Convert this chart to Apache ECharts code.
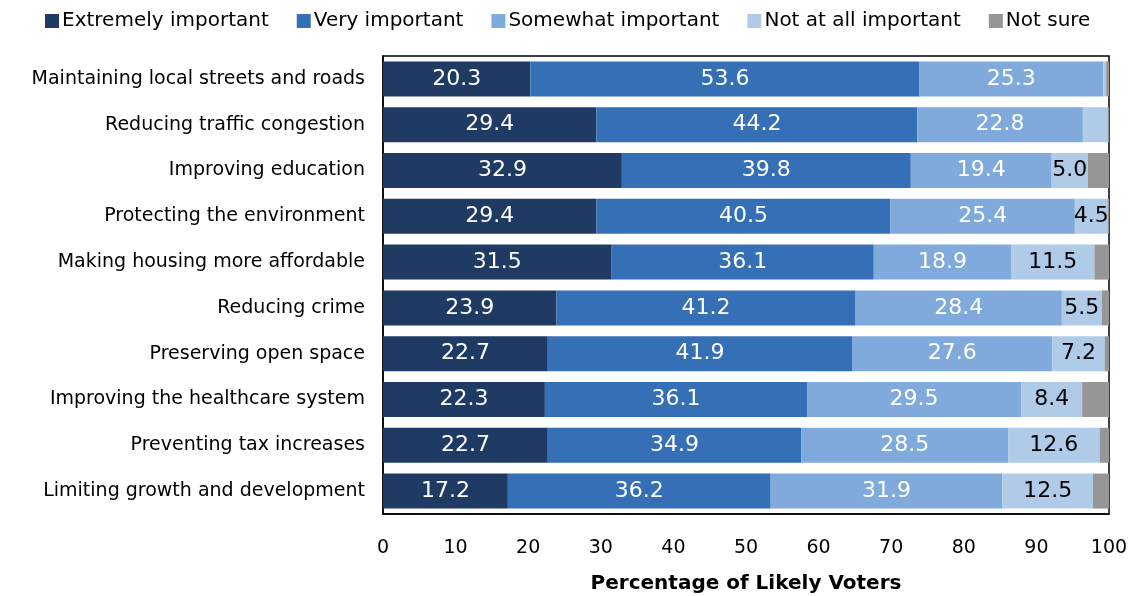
<!DOCTYPE html>
<html><head><meta charset="utf-8">
<script src="https://cdn.jsdelivr.net/npm/echarts@6/dist/echarts.min.js"></script>
<style>html,body{margin:0;padding:0;background:#fff}#c{width:1134px;height:596px}</style>
</head><body><div id="c"></div>
<script>
const categories = [
  'Maintaining local streets and roads',
  'Reducing traffic congestion',
  'Improving education',
  'Protecting the environment',
  'Making housing more affordable',
  'Reducing crime',
  'Preserving open space',
  'Improving the healthcare system',
  'Preventing tax increases',
  'Limiting growth and development'
];
const seriesNames = ['Extremely important','Very important','Somewhat important','Not at all important','Not sure'];
const extremely = [20.3, 29.4, 32.9, 29.4, 31.5, 23.9, 22.7, 22.3, 22.7, 17.2];
const very      = [53.6, 44.2, 39.8, 40.5, 36.1, 41.2, 41.9, 36.1, 34.9, 36.2];
const somewhat  = [25.3, 22.8, 19.4, 25.4, 18.9, 28.4, 27.6, 29.5, 28.5, 31.9];
const notAtAll  = [0.4, 3.4, 5.0, 4.5, 11.5, 5.5, 7.2, 8.4, 12.6, 12.5];
const notSure   = [0.4, 0.2, 2.9, 0.2, 2.0, 1.0, 0.6, 3.7, 1.3, 2.2];
const xTicks = [0,10,20,30,40,50,60,70,80,90,100];

const colors = ['#1f3b63','#356fb5','#80aadb','#b0cbe8','#969696'];
const labelColors = ['#fff','#fff','#fff','#000',null];
const FONT = 'DejaVu Sans';
const dataSets = [extremely, very, somewhat, notAtAll, notSure];

const chart = echarts.init(document.getElementById('c'), null, {renderer:'canvas'});
chart.setOption({
  animation:false,
  textStyle:{fontFamily:FONT},
  legend:{
    top:6, left:40, itemWidth:14, itemHeight:14, itemGap:28,
    icon:'rect',
    textStyle:{fontFamily:FONT, fontSize:20, color:'#000', padding:[0,0,0,-2]},
    data: seriesNames
  },
  grid:{left:383, right:25, top:56, bottom:82, show:true, borderColor:'#000', borderWidth:1.5,
        backgroundColor:'transparent', containLabel:false, outerBoundsMode:'none'},
  xAxis:{
    type:'value', min:0, max:100, interval:10,
    axisLine:{show:true, lineStyle:{color:'#000', width:1.5}},
    axisTick:{show:false}, splitLine:{show:false},
    axisLabel:{fontFamily:FONT, fontSize:19, color:'#000', margin:25,
      formatter: v => xTicks.includes(v) ? String(v) : ''},
    name:'Percentage of Likely Voters', nameLocation:'middle', nameGap:60,
    nameTextStyle:{fontFamily:FONT, fontSize:20, fontWeight:'bold', color:'#000'}
  },
  yAxis:{
    type:'category', inverse:true, data:categories,
    axisLine:{show:true, lineStyle:{color:'#000', width:1.5}},
    axisTick:{show:false},
    axisLabel:{fontFamily:FONT, fontSize:19, color:'#000', margin:18}
  },
  series: seriesNames.map((n,i)=>({
    name:n, type:'bar', stack:'s', data:dataSets[i], barWidth:35,
    itemStyle:{color:colors[i]},
    label:{
      show: labelColors[i]!==null,
      position:'inside',
      color: labelColors[i] || '#000',
      fontFamily:FONT, fontSize:22,
      formatter: p => p.value >= 4 ? p.value.toFixed(1) : ''
    }
  }))
});
</script></body></html>
